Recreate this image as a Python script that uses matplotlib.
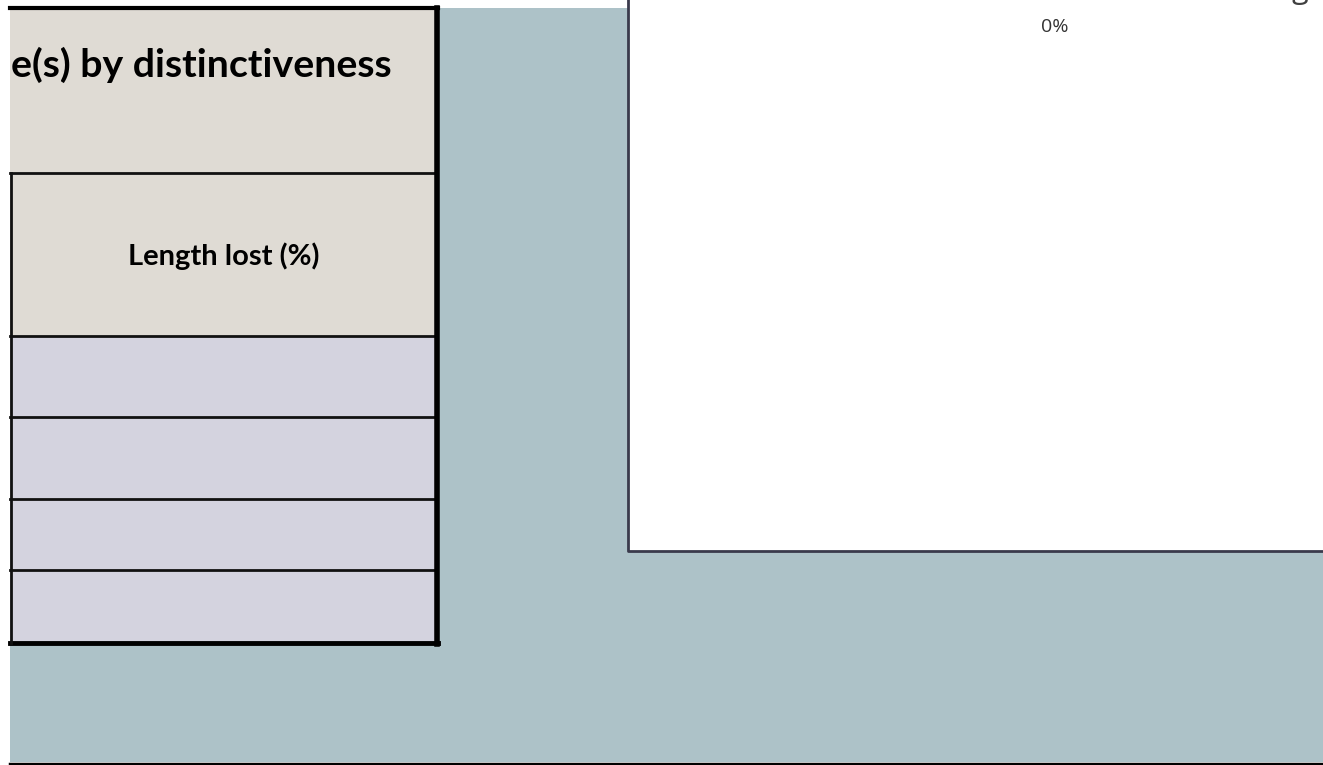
import matplotlib.pyplot as plt
from matplotlib.patches import Rectangle

# table content (only the visible part of the sheet)
header_titles = ['e(s) by distinctiveness', 'Length lost (%)']
body_rows = ['', '', '', '']
tick_labels = ['0%']
title_tail = 'g'

# colours
bg_col = '#adc2c8'
head_col = '#dfdbd4'
body_col = '#d4d3df'

W, H = 1323, 765
fig = plt.figure(figsize=(W / 100, H / 100), dpi=100)
ax = fig.add_axes([0, 0, 1, 1])
ax.set_xlim(0, W)
ax.set_ylim(H, 0)
ax.axis('off')

# sheet background
ax.add_patch(Rectangle((10, 8), W - 10, 754, facecolor=bg_col, edgecolor='none', zorder=0))
ax.plot([10, W], [763.5, 763.5], color='black', lw=2.5, zorder=1)

# chart area (white plot area of the embedded chart)
ax.add_patch(Rectangle((628, 0), W - 628, 551, facecolor='white', edgecolor='none', zorder=1))
ax.plot([628, 628, W], [0, 551, 551], color='#3a3a4c', lw=2, zorder=2)
ax.text(1055, 27, tick_labels[0], fontsize=14, color='#333333', family='Open Sans',
        ha='center', va='center', zorder=3)
# chart title runs off the top of the sheet, only the tail of the last letter shows
ax.text(1300, -2, title_tail, fontsize=22, color='#404040', family='Open Sans',
        ha='center', va='baseline', zorder=3, clip_on=True)

# table rows
edges = [8, 173, 336, 417, 499, 570, 643]
n_head = len(header_titles)
fills = [head_col] * n_head + [body_col] * len(body_rows)
x0, x1 = 10, 437
for i, c in enumerate(fills):
    ax.add_patch(Rectangle((x0, edges[i]), x1 - x0, edges[i + 1] - edges[i],
                           facecolor=c, edgecolor='none', zorder=2))
for y in edges[1:-1]:
    ax.plot([x0, x1], [y, y], color='#111111', lw=2, zorder=3)
ax.plot([x0, x1 + 1], [edges[0], edges[0]], color='black', lw=3, zorder=3)
ax.plot([x0, x1 + 1], [edges[-1], edges[-1]], color='black', lw=3.5, zorder=3)
ax.plot([x0 + 1, x0 + 1], [edges[1], edges[-1]], color='#111111', lw=2, zorder=3)
ax.plot([x1, x1], [edges[0], edges[-1] + 1], color='black', lw=4, zorder=3)

ax.text(11, 65, header_titles[0], fontsize=28.3, fontweight='bold', family='Lato',
        ha='left', va='center', zorder=4)
ax.text(224, 256, header_titles[1], fontsize=21, fontweight='bold', family='Lato',
        ha='center', va='center', zorder=4)

fig.savefig('out.png', dpi=100, facecolor='white')
